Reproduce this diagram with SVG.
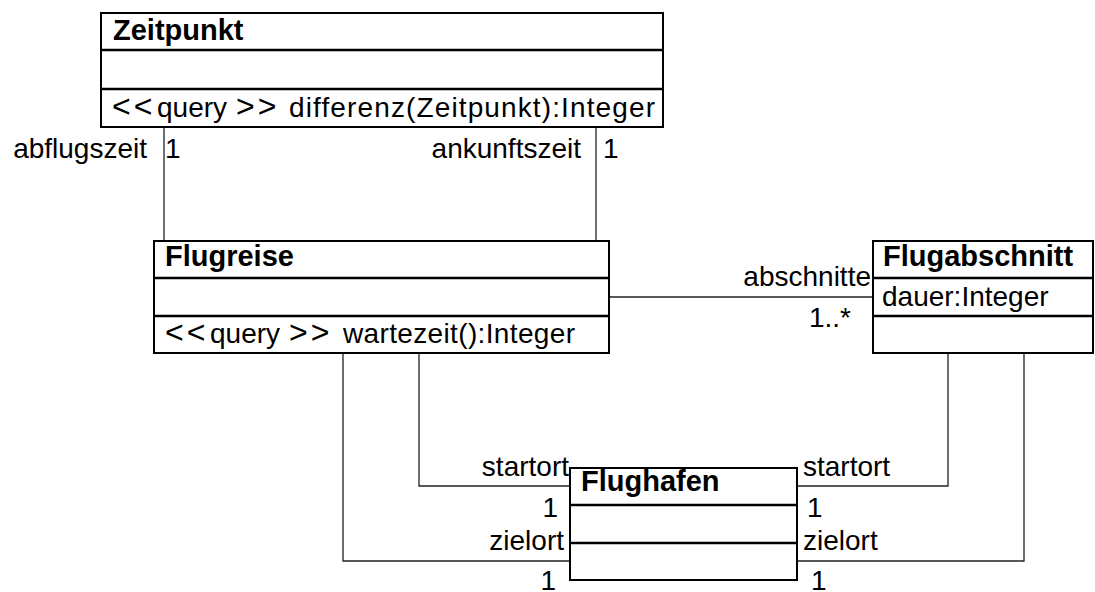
<svg xmlns="http://www.w3.org/2000/svg" width="1095" height="592" viewBox="0 0 1095 592">
<style>
.box{fill:#fff;stroke:#000;stroke-width:2}
.sep{stroke:#000;stroke-width:2.5}
.con{fill:none;stroke:#222;stroke-width:1.3}
text{font-family:"Liberation Sans",Arial,sans-serif;font-size:28px;fill:#000}
.title{font-weight:bold;font-size:29px}
.end{text-anchor:end}
.rel{font-size:32px;letter-spacing:3px}
</style>
<rect width="1095" height="592" fill="#fff"/>
<g id="connectors">
<line class="con" x1="164" y1="127" x2="164" y2="241"/>
<line class="con" x1="596" y1="127" x2="596" y2="241"/>
<line class="con" x1="609" y1="297" x2="873" y2="297"/>
<polyline class="con" points="419,353 419,486 570,486"/>
<polyline class="con" points="343,353 343,561 570,561"/>
<polyline class="con" points="948,353 948,486 797,486"/>
<polyline class="con" points="1024,353 1024,561 797,561"/>
<text class="end" x="147" y="158">abflugszeit</text>
<text x="165" y="158">1</text>
<text class="end" x="581" y="158">ankunftszeit</text>
<text x="603" y="158">1</text>
<text class="end" x="871" y="286">abschnitte</text>
<text class="end" x="851" y="327">1..*</text>
<text class="end" x="569" y="476">startort</text>
<text class="end" x="558" y="517">1</text>
<text class="end" x="564" y="550">zielort</text>
<text class="end" x="556" y="590">1</text>
<text x="803" y="476">startort</text>
<text x="807" y="517">1</text>
<text x="803" y="550">zielort</text>
<text x="811" y="590">1</text>
</g>
<g id="Zeitpunkt">
<rect class="box" x="101" y="13" width="562" height="114"/>
<line class="sep" x1="101" y1="50" x2="663" y2="50"/>
<line class="sep" x1="101" y1="89" x2="663" y2="89"/>
<text class="title" x="113" y="40">Zeitpunkt</text>
<text x="112" y="117"><tspan class="rel">&lt;&lt;</tspan><tspan x="157">query</tspan><tspan class="rel" x="236">&gt;&gt;</tspan><tspan x="289" textLength="366" lengthAdjust="spacing">differenz(Zeitpunkt):Integer</tspan></text>
</g>
<g id="Flugreise">
<rect class="box" x="154" y="241" width="455" height="112"/>
<line class="sep" x1="154" y1="278" x2="609" y2="278"/>
<line class="sep" x1="154" y1="316" x2="609" y2="316"/>
<text class="title" x="165" y="266">Flugreise</text>
<text x="165" y="343"><tspan class="rel">&lt;&lt;</tspan><tspan x="210">query</tspan><tspan class="rel" x="289">&gt;&gt;</tspan><tspan x="343" textLength="232" lengthAdjust="spacing">wartezeit():Integer</tspan></text>
</g>
<g id="Flugabschnitt">
<rect class="box" x="873" y="241" width="220" height="112"/>
<line class="sep" x1="873" y1="278" x2="1093" y2="278"/>
<line class="sep" x1="873" y1="316" x2="1093" y2="316"/>
<text class="title" x="883" y="266">Flugabschnitt</text>
<text x="882" y="306">dauer:Integer</text>
</g>
<g id="Flughafen">
<rect class="box" x="570" y="468" width="227" height="112"/>
<line class="sep" x1="570" y1="505" x2="797" y2="505"/>
<line class="sep" x1="570" y1="543" x2="797" y2="543"/>
<text class="title" x="581" y="491">Flughafen</text>
</g>
</svg>
